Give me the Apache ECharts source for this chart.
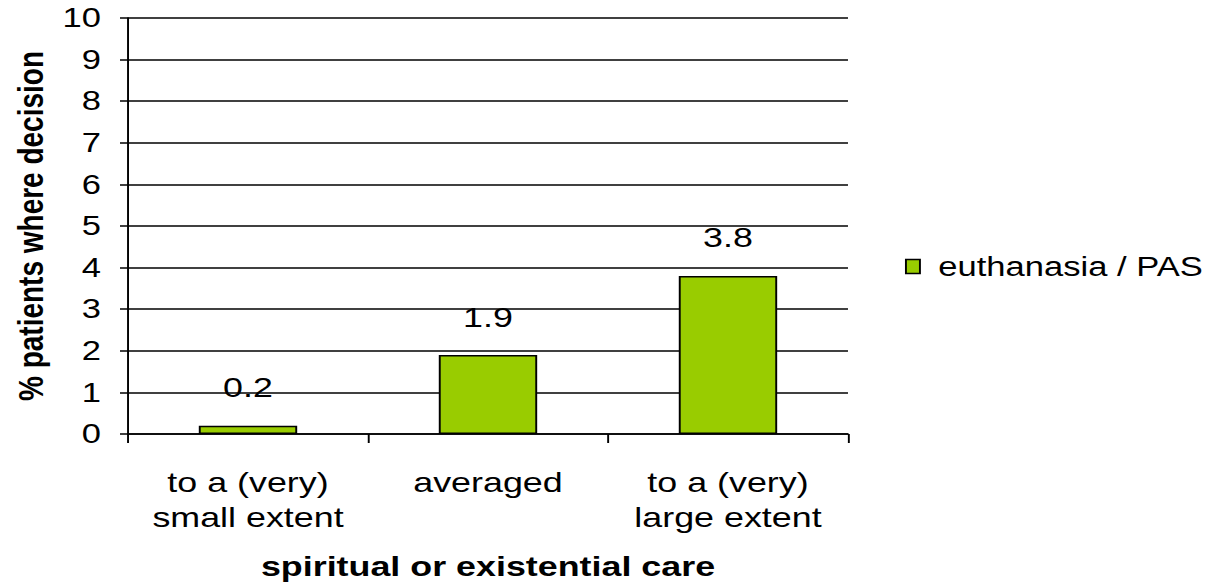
<!DOCTYPE html>
<html>
<head>
<meta charset="utf-8">
<script src="https://cdn.jsdelivr.net/npm/echarts@6/dist/echarts.min.js"></script>
<style>
  html, body { margin: 0; padding: 0; background: #ffffff; overflow: hidden; }
  /* The chart is laid out on a narrower canvas and widened horizontally,
     giving the broad, stretched lettering of the original figure. */
  #chart {
    width: 956px;
    height: 585px;
    transform: scaleX(1.2803);
    transform-origin: 0 0;
  }
</style>
</head>
<body>
<div id="chart"></div>
<script>
// Share of patients where the end-of-life decision was euthanasia / PAS,
// grouped by how much spiritual or existential care was provided.
const categories = ['to a (very)\nsmall extent', 'averaged', 'to a (very)\nlarge extent'];
const seriesName = 'euthanasia / PAS';
const values = [0.2, 1.9, 3.8];
const yTicks = { min: 0, max: 10, interval: 1 };

// horizontal widening factor (page width / layout width)
const STRETCH = 1224 / 956;
const hx = v => v / STRETCH;   // page pixels -> layout pixels, horizontal only

const FONT = '"Liberation Sans", Arial, sans-serif';
const chart = echarts.init(document.getElementById('chart'), null, { renderer: 'svg', width: 956, height: 585 });

chart.setOption({
  animation: false,
  backgroundColor: '#ffffff',
  textStyle: { fontFamily: FONT, color: '#000' },
  grid: { left: hx(128), right: 956 - hx(848), top: 18, bottom: 148, containLabel: false },
  legend: {
    data: [seriesName],
    left: hx(905),
    top: 253,
    padding: 0,
    itemWidth: hx(14),
    itemHeight: 14,
    icon: 'rect',
    itemStyle: { borderColor: '#000', borderWidth: 1.5 },
    textStyle: { fontFamily: FONT, fontSize: 27, color: '#000', padding: [0, 0, 0, hx(12)] }
  },
  xAxis: {
    type: 'category',
    data: categories,
    name: 'spiritual or existential care',
    nameLocation: 'middle',
    nameGap: 118,
    nameTextStyle: { fontFamily: FONT, fontSize: 28, fontWeight: 'bold', color: '#000' },
    axisLine: { lineStyle: { color: '#000', width: 1.5 } },
    axisTick: { show: true, alignWithLabel: false, length: 9, lineStyle: { color: '#000', width: 1.5 } },
    axisLabel: { interval: 0, fontFamily: FONT, fontSize: 28, color: '#000', margin: 31, lineHeight: 35 }
  },
  yAxis: {
    type: 'value',
    min: yTicks.min,
    max: yTicks.max,
    interval: yTicks.interval,
    name: '% patients where decision',
    nameLocation: 'middle',
    nameGap: 62,
    nameTextStyle: { fontFamily: FONT, fontSize: 28, fontWeight: 'bold', color: '#000' },
    axisLine: { show: true, lineStyle: { color: '#000', width: 1.5 } },
    axisTick: { show: true, length: hx(8), lineStyle: { color: '#000', width: 1.5 } },
    axisLabel: { fontFamily: FONT, fontSize: 27, color: '#000', margin: hx(27) },
    splitLine: { show: true, lineStyle: { color: '#000', width: 1.5 } }
  },
  series: [{
    name: seriesName,
    type: 'bar',
    data: values,
    barWidth: '41%',
    itemStyle: { color: '#99CC00', borderColor: '#000', borderWidth: 1.5 },
    label: {
      show: true,
      position: 'top',
      distance: 24,
      fontFamily: FONT,
      fontSize: 28,
      color: '#000',
      formatter: p => p.value.toFixed(1)
    }
  }]
});
</script>
</body>
</html>
